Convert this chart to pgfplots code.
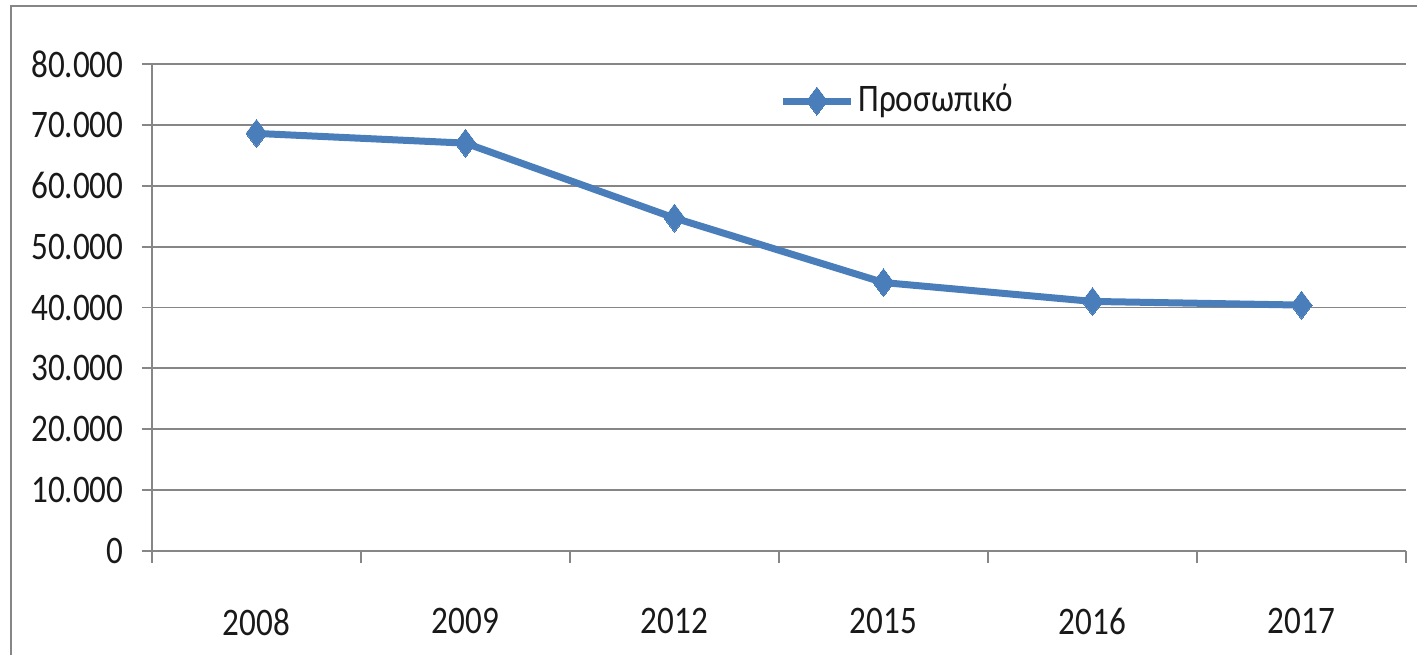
\documentclass[border=0pt]{standalone}
\usepackage{fontspec}
\setmainfont{Carlito}[FakeStretch=0.85]
\usepackage{pgfplots}
\pgfplotsset{compat=1.18}

\definecolor{xlblue}{RGB}{74,126,187}
\definecolor{gridgray}{RGB}{134,134,134}
\definecolor{txt}{RGB}{25,25,25}

\begin{document}
\fontsize{19.5pt}{23pt}\selectfont
\begin{tikzpicture}
\useasboundingbox (0,0) rectangle (708.5pt,327.5pt);
% chart frame (only left and top edges are visible)
\draw[gridgray, line width=1.4pt] (5.5pt,0) -- (5.5pt,324.5pt) -- (708.5pt,324.5pt);
\begin{axis}[
    at={(76pt,52pt)}, anchor=south west,
    scale only axis,
    width=627pt, height=243.5pt,
    xmin=-0.5, xmax=5.5,
    ymin=0, ymax=80000,
    axis x line*=bottom, axis y line*=left,
    axis line style={gridgray, line width=0.9pt, -},
    xtick={0,...,5},
    xticklabels={2008,2009,2012,2015,2016,2017},
    minor xtick={-0.5,0.5,...,5.5},
    major x tick style={draw=none},
    minor tick length=6pt,
    tick align=outside,
    ytick={0,10000,...,80000},
    scaled y ticks=false,
    major tick length=5pt,
    tick style={gridgray, line width=0.9pt},
    ymajorgrids,
    grid style={gridgray, line width=0.9pt},
    /pgf/number format/assume math mode=true,
    yticklabel style={/pgf/number format/fixed, /pgf/number format/1000 sep={.},
        text=txt, xshift=-2.5pt},
    xticklabel style={text=txt, yshift=-17pt},
    legend style={draw=none, fill=none, at={(0.50,0.924)}, anchor=west,
        font=\fontsize{19.5pt}{23pt}\selectfont, text=txt, inner sep=0pt},
    legend cell align=left,
    legend image code/.code={\draw[mark repeat=2,mark phase=2,#1]
        plot coordinates {(0pt,0pt) (17pt,0pt) (34pt,0pt)};},
]
\addplot[xlblue, line width=3.5pt, mark=diamond*, mark size=7pt,
    mark options={solid, line width=0pt}] coordinates {
    (0,68600) (1,67000) (2,54700) (3,44100) (4,41000) (5,40400)
};
\addlegendentry{Προσωπικό}
\end{axis}
\end{tikzpicture}
\end{document}
